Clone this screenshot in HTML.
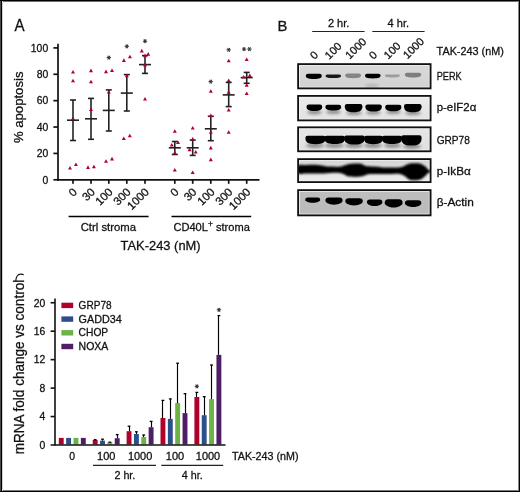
<!DOCTYPE html>
<html><head><meta charset="utf-8"><style>
html,body{margin:0;padding:0;background:#fff;}
svg{display:block;will-change:transform;}
text{font-family:"Liberation Sans", sans-serif;fill:#111;stroke:#111;stroke-width:0.28px;}
</style></head><body>
<svg width="520" height="492" viewBox="0 0 520 492">
<defs><filter id="bl" x="-20%" y="-50%" width="140%" height="200%"><feGaussianBlur stdDeviation="0.7"/></filter><filter id="bl3" x="-10%" y="-50%" width="120%" height="200%"><feGaussianBlur stdDeviation="0.85"/></filter><filter id="bl2" x="-30%" y="-100%" width="160%" height="300%"><feGaussianBlur stdDeviation="1.4"/></filter></defs>
<rect x="0" y="0" width="520" height="492" fill="#fff"/>
<text x="14.4" y="31.0" font-size="16.2" textLength="10.1" lengthAdjust="spacingAndGlyphs">A</text>
<g stroke="#111" stroke-width="1.7" fill="none">
<line x1="58" y1="43.8" x2="58" y2="180.7"/>
<line x1="57.2" y1="179.9" x2="259.5" y2="179.9"/>
<line x1="53.4" y1="47.90" x2="58" y2="47.90"/>
<line x1="53.4" y1="74.28" x2="58" y2="74.28"/>
<line x1="53.4" y1="100.66" x2="58" y2="100.66"/>
<line x1="53.4" y1="127.04" x2="58" y2="127.04"/>
<line x1="53.4" y1="153.42" x2="58" y2="153.42"/>
<line x1="53.4" y1="179.80" x2="58" y2="179.80"/>
<line x1="73.0" y1="180" x2="73.0" y2="183.8"/>
<line x1="91.0" y1="180" x2="91.0" y2="183.8"/>
<line x1="108.8" y1="180" x2="108.8" y2="183.8"/>
<line x1="126.8" y1="180" x2="126.8" y2="183.8"/>
<line x1="145.0" y1="180" x2="145.0" y2="183.8"/>
<line x1="174.8" y1="180" x2="174.8" y2="183.8"/>
<line x1="192.7" y1="180" x2="192.7" y2="183.8"/>
<line x1="210.8" y1="180" x2="210.8" y2="183.8"/>
<line x1="228.7" y1="180" x2="228.7" y2="183.8"/>
<line x1="246.7" y1="180" x2="246.7" y2="183.8"/>
</g>
<text x="48.2" y="51.7" font-size="10.4" text-anchor="end">100</text>
<text x="48.2" y="78.08" font-size="10.4" text-anchor="end">80</text>
<text x="48.2" y="104.46" font-size="10.4" text-anchor="end">60</text>
<text x="48.2" y="130.84" font-size="10.4" text-anchor="end">40</text>
<text x="48.2" y="157.22" font-size="10.4" text-anchor="end">20</text>
<text x="48.2" y="183.6" font-size="10.4" text-anchor="end">0</text>
<text transform="translate(23.2 107.3) rotate(-90)" font-size="13" text-anchor="middle" textLength="71.5" lengthAdjust="spacingAndGlyphs">% apoptosis</text>
<g font-size="11.3" text-anchor="end">
<text transform="translate(77.60 192.7) rotate(-45)">0</text>
<text transform="translate(95.60 192.7) rotate(-45)">30</text>
<text transform="translate(113.40 192.7) rotate(-45)">100</text>
<text transform="translate(131.40 192.7) rotate(-45)">300</text>
<text transform="translate(149.60 192.7) rotate(-45)">1000</text>
<text transform="translate(179.40 192.7) rotate(-45)">0</text>
<text transform="translate(197.30 192.7) rotate(-45)">30</text>
<text transform="translate(215.40 192.7) rotate(-45)">100</text>
<text transform="translate(233.30 192.7) rotate(-45)">300</text>
<text transform="translate(251.30 192.7) rotate(-45)">1000</text>
</g>
<g stroke="#000" stroke-width="1.5">
<line x1="68.6" y1="216.4" x2="148.6" y2="216.4"/>
<line x1="171.5" y1="216.4" x2="251.2" y2="216.4"/>
</g>
<text x="108.4" y="230.6" font-size="11.2" text-anchor="middle" textLength="55.4" lengthAdjust="spacingAndGlyphs">Ctrl stroma</text>
<text x="173.4" y="230.6" font-size="11.2" textLength="76.4" lengthAdjust="spacingAndGlyphs">CD40L<tspan font-size="8.6" dy="-4.0">+</tspan><tspan dy="4.0"> stroma</tspan></text>
<text x="120.6" y="249.5" font-size="13.6" textLength="80.0" lengthAdjust="spacingAndGlyphs">TAK-243 (nM)</text>
<g stroke="#222" stroke-width="1.6" fill="none">
<line x1="73.0" y1="100.0" x2="73.0" y2="140.5"/>
<line x1="70.0" y1="100.0" x2="76.0" y2="100.0"/>
<line x1="70.0" y1="140.5" x2="76.0" y2="140.5"/>
<line x1="67.0" y1="120.2" x2="79.0" y2="120.2"/>
<line x1="91.0" y1="98.4" x2="91.0" y2="139.3"/>
<line x1="88.0" y1="98.4" x2="94.0" y2="98.4"/>
<line x1="88.0" y1="139.3" x2="94.0" y2="139.3"/>
<line x1="85.0" y1="118.8" x2="97.0" y2="118.8"/>
<line x1="108.8" y1="89.9" x2="108.8" y2="131.0"/>
<line x1="105.8" y1="89.9" x2="111.8" y2="89.9"/>
<line x1="105.8" y1="131.0" x2="111.8" y2="131.0"/>
<line x1="102.8" y1="110.4" x2="114.8" y2="110.4"/>
<line x1="126.8" y1="74.6" x2="126.8" y2="111.0"/>
<line x1="123.8" y1="74.6" x2="129.8" y2="74.6"/>
<line x1="123.8" y1="111.0" x2="129.8" y2="111.0"/>
<line x1="120.8" y1="93.1" x2="132.8" y2="93.1"/>
<line x1="145.0" y1="55.6" x2="145.0" y2="73.4"/>
<line x1="142.0" y1="55.6" x2="148.0" y2="55.6"/>
<line x1="142.0" y1="73.4" x2="148.0" y2="73.4"/>
<line x1="139.0" y1="64.6" x2="151.0" y2="64.6"/>
<line x1="174.8" y1="141.5" x2="174.8" y2="154.5"/>
<line x1="171.8" y1="141.5" x2="177.8" y2="141.5"/>
<line x1="171.8" y1="154.5" x2="177.8" y2="154.5"/>
<line x1="168.8" y1="147.8" x2="180.8" y2="147.8"/>
<line x1="192.7" y1="140.1" x2="192.7" y2="155.4"/>
<line x1="189.7" y1="140.1" x2="195.7" y2="140.1"/>
<line x1="189.7" y1="155.4" x2="195.7" y2="155.4"/>
<line x1="186.7" y1="147.8" x2="198.7" y2="147.8"/>
<line x1="210.8" y1="116.3" x2="210.8" y2="140.7"/>
<line x1="207.8" y1="116.3" x2="213.8" y2="116.3"/>
<line x1="207.8" y1="140.7" x2="213.8" y2="140.7"/>
<line x1="204.8" y1="128.8" x2="216.8" y2="128.8"/>
<line x1="228.7" y1="82.4" x2="228.7" y2="106.6"/>
<line x1="225.7" y1="82.4" x2="231.7" y2="82.4"/>
<line x1="225.7" y1="106.6" x2="231.7" y2="106.6"/>
<line x1="222.7" y1="94.9" x2="234.7" y2="94.9"/>
<line x1="246.7" y1="72.4" x2="246.7" y2="83.3"/>
<line x1="243.7" y1="72.4" x2="249.7" y2="72.4"/>
<line x1="243.7" y1="83.3" x2="249.7" y2="83.3"/>
<line x1="240.7" y1="77.6" x2="252.7" y2="77.6"/>
</g>
<g fill="#b0002c">
<path d="M73.00 70.02L75.00 73.62L71.00 73.62Z"/>
<path d="M73.00 78.72L75.00 82.32L71.00 82.32Z"/>
<path d="M73.00 116.52L75.00 120.12L71.00 120.12Z"/>
<path d="M70.00 165.92L72.00 169.52L68.00 169.52Z"/>
<path d="M75.90 162.52L77.90 166.12L73.90 166.12Z"/>
<path d="M91.00 68.62L93.00 72.22L89.00 72.22Z"/>
<path d="M91.00 79.72L93.00 83.32L89.00 83.32Z"/>
<path d="M91.00 107.42L93.00 111.02L89.00 111.02Z"/>
<path d="M88.00 165.32L90.00 168.92L86.00 168.92Z"/>
<path d="M93.90 164.72L95.90 168.32L91.90 168.32Z"/>
<path d="M106.00 69.62L108.00 73.22L104.00 73.22Z"/>
<path d="M112.00 68.42L114.00 72.02L110.00 72.02Z"/>
<path d="M108.80 90.02L110.80 93.62L106.80 93.62Z"/>
<path d="M106.00 159.22L108.00 162.82L104.00 162.82Z"/>
<path d="M112.00 156.82L114.00 160.42L110.00 160.42Z"/>
<path d="M123.90 58.32L125.90 61.92L121.90 61.92Z"/>
<path d="M129.90 54.72L131.90 58.32L127.90 58.32Z"/>
<path d="M126.80 73.72L128.80 77.32L124.80 77.32Z"/>
<path d="M123.80 136.42L125.80 140.02L121.80 140.02Z"/>
<path d="M129.80 133.72L131.80 137.32L127.80 137.32Z"/>
<path d="M141.80 48.82L143.80 52.42L139.80 52.42Z"/>
<path d="M148.20 52.12L150.20 55.72L146.20 55.72Z"/>
<path d="M145.00 53.62L147.00 57.22L143.00 57.22Z"/>
<path d="M145.00 63.02L147.00 66.62L143.00 66.62Z"/>
<path d="M145.00 97.02L147.00 100.62L143.00 100.62Z"/>
<path d="M174.80 129.22L176.80 132.82L172.80 132.82Z"/>
<path d="M178.00 140.32L180.00 143.92L176.00 143.92Z"/>
<path d="M171.80 143.02L173.80 146.62L169.80 146.62Z"/>
<path d="M174.80 150.72L176.80 154.32L172.80 154.32Z"/>
<path d="M174.80 168.02L176.80 171.62L172.80 171.62Z"/>
<path d="M192.70 126.02L194.70 129.62L190.70 129.62Z"/>
<path d="M192.70 136.92L194.70 140.52L190.70 140.52Z"/>
<path d="M189.60 147.62L191.60 151.22L187.60 151.22Z"/>
<path d="M195.70 150.02L197.70 153.62L193.70 153.62Z"/>
<path d="M192.70 170.42L194.70 174.02L190.70 174.02Z"/>
<path d="M210.80 89.22L212.80 92.82L208.80 92.82Z"/>
<path d="M210.80 113.42L212.80 117.02L208.80 117.02Z"/>
<path d="M210.80 130.22L212.80 133.82L208.80 133.82Z"/>
<path d="M210.80 145.82L212.80 149.42L208.80 149.42Z"/>
<path d="M210.80 157.62L212.80 161.22L208.80 161.22Z"/>
<path d="M228.70 58.72L230.70 62.32L226.70 62.32Z"/>
<path d="M228.70 78.52L230.70 82.12L226.70 82.12Z"/>
<path d="M228.70 90.22L230.70 93.82L226.70 93.82Z"/>
<path d="M228.70 107.92L230.70 111.52L226.70 111.52Z"/>
<path d="M228.70 130.22L230.70 133.82L226.70 133.82Z"/>
<path d="M246.70 57.52L248.70 61.12L244.70 61.12Z"/>
<path d="M243.70 75.02L245.70 78.62L241.70 78.62Z"/>
<path d="M249.80 73.52L251.80 77.12L247.80 77.12Z"/>
<path d="M246.70 83.12L248.70 86.72L244.70 86.72Z"/>
<path d="M246.70 91.42L248.70 95.02L244.70 95.02Z"/>
</g>
<g stroke="#333" stroke-width="1.05">
<line x1="106.65" y1="57.60" x2="110.95" y2="57.60"/><line x1="107.72" y1="55.74" x2="109.88" y2="59.46"/><line x1="109.88" y1="55.74" x2="107.72" y2="59.46"/>
<line x1="124.65" y1="46.30" x2="128.95" y2="46.30"/><line x1="125.72" y1="44.44" x2="127.88" y2="48.16"/><line x1="127.88" y1="44.44" x2="125.72" y2="48.16"/>
<line x1="142.85" y1="41.20" x2="147.15" y2="41.20"/><line x1="143.93" y1="39.34" x2="146.07" y2="43.06"/><line x1="146.07" y1="39.34" x2="143.93" y2="43.06"/>
<line x1="208.55" y1="81.60" x2="212.85" y2="81.60"/><line x1="209.62" y1="79.74" x2="211.77" y2="83.46"/><line x1="211.77" y1="79.74" x2="209.62" y2="83.46"/>
<line x1="226.55" y1="49.80" x2="230.85" y2="49.80"/><line x1="227.62" y1="47.94" x2="229.77" y2="51.66"/><line x1="229.77" y1="47.94" x2="227.62" y2="51.66"/>
<line x1="241.95" y1="49.10" x2="246.25" y2="49.10"/><line x1="243.03" y1="47.24" x2="245.17" y2="50.96"/><line x1="245.17" y1="47.24" x2="243.03" y2="50.96"/>
<line x1="247.25" y1="49.10" x2="251.55" y2="49.10"/><line x1="248.33" y1="47.24" x2="250.47" y2="50.96"/><line x1="250.47" y1="47.24" x2="248.33" y2="50.96"/>
</g>
<text x="277.6" y="31.3" font-size="14.8">B</text>
<text x="338.6" y="26.9" font-size="11.3" text-anchor="middle" textLength="21.4" lengthAdjust="spacingAndGlyphs">2 hr.</text>
<text x="398.3" y="26.9" font-size="11.3" text-anchor="middle" textLength="21.4" lengthAdjust="spacingAndGlyphs">4 hr.</text>
<g stroke="#222" stroke-width="1.2"><line x1="312.2" y1="31.5" x2="364.6" y2="31.5"/><line x1="372.3" y1="31.5" x2="424.6" y2="31.5"/></g>
<g font-size="11">
<text transform="translate(314.45 59.95) rotate(-45)">0</text>
<text transform="translate(329.30 59.90) rotate(-45)">100</text>
<text transform="translate(349.75 59.70) rotate(-45)">1000</text>
<text transform="translate(373.55 60.05) rotate(-45)">0</text>
<text transform="translate(388.30 59.70) rotate(-45)">100</text>
<text transform="translate(407.40 59.45) rotate(-45)">1000</text>
</g>
<text x="436.6" y="55.1" font-size="10.9" textLength="67.2" lengthAdjust="spacingAndGlyphs">TAK-243 (nM)</text>
<text x="436.7" y="79.9" font-size="10.9" textLength="25.0" lengthAdjust="spacingAndGlyphs">PERK</text>
<text x="436.7" y="111.3" font-size="10.9" textLength="39.6" lengthAdjust="spacingAndGlyphs">p-eIF2α</text>
<text x="436.7" y="143.8" font-size="10.9" textLength="33.2" lengthAdjust="spacingAndGlyphs">GRP78</text>
<text x="436.7" y="175.3" font-size="10.9" textLength="34.0" lengthAdjust="spacingAndGlyphs">p-IkBα</text>
<text x="436.7" y="206.4" font-size="10.9" textLength="37.1" lengthAdjust="spacingAndGlyphs">β-Actin</text>
<clipPath id="cb"><rect x="298.1" y="64.10" width="132.5" height="24.30"/><rect x="298.1" y="95.90" width="132.5" height="24.50"/><rect x="298.1" y="127.30" width="132.5" height="24.00"/><rect x="298.1" y="159.10" width="132.5" height="23.00"/><rect x="298.1" y="190.10" width="132.5" height="25.30"/></clipPath>
<g clip-path="url(#cb)">
<linearGradient id="g0" x1="0" y1="0" x2="0" y2="1"><stop offset="0" stop-color="#d9d9d9"/><stop offset="1" stop-color="#d2d2d2"/></linearGradient>
<rect x="298.1" y="64.10" width="132.5" height="24.30" fill="url(#g0)"/>
<rect x="299.5" y="65.50" width="129.7" height="21.50" fill="none" stroke="#f2f2f2" stroke-width="0.9" opacity="0.8"/>
<linearGradient id="g1" x1="0" y1="0" x2="0" y2="1"><stop offset="0" stop-color="#ececec"/><stop offset="1" stop-color="#e2e2e2"/></linearGradient>
<rect x="298.1" y="95.90" width="132.5" height="24.50" fill="url(#g1)"/>
<rect x="299.5" y="97.30" width="129.7" height="21.70" fill="none" stroke="#f2f2f2" stroke-width="0.9" opacity="0.8"/>
<linearGradient id="g2" x1="0" y1="0" x2="0" y2="1"><stop offset="0" stop-color="#e6e6e6"/><stop offset="1" stop-color="#e0e0e0"/></linearGradient>
<rect x="298.1" y="127.30" width="132.5" height="24.00" fill="url(#g2)"/>
<rect x="299.5" y="128.70" width="129.7" height="21.20" fill="none" stroke="#f2f2f2" stroke-width="0.9" opacity="0.8"/>
<linearGradient id="g3" x1="0" y1="0" x2="0" y2="1"><stop offset="0" stop-color="#d4d4d4"/><stop offset="1" stop-color="#eeeeee"/></linearGradient>
<rect x="298.1" y="159.10" width="132.5" height="23.00" fill="url(#g3)"/>
<rect x="299.5" y="160.50" width="129.7" height="20.20" fill="none" stroke="#f2f2f2" stroke-width="0.9" opacity="0.8"/>
<linearGradient id="g4" x1="0" y1="0" x2="0" y2="1"><stop offset="0" stop-color="#bebebe"/><stop offset="1" stop-color="#bababa"/></linearGradient>
<rect x="298.1" y="190.10" width="132.5" height="25.30" fill="url(#g4)"/>
<rect x="299.5" y="191.50" width="129.7" height="22.50" fill="none" stroke="#f2f2f2" stroke-width="0.9" opacity="0.8"/>
<ellipse cx="372" cy="85.8" rx="7" ry="1.6" fill="#b0b0b0" filter="url(#bl2)"/>
<g filter="url(#bl2)" fill="#6a6a6a" opacity="0.7">
<ellipse cx="314.5" cy="112.25" rx="7.5" ry="2.25"/>
<ellipse cx="333.5" cy="112.0" rx="7.5" ry="2.0"/>
<ellipse cx="354.0" cy="113.0" rx="8.0" ry="2.0"/>
<ellipse cx="373.5" cy="112.5" rx="7.5" ry="2.0"/>
<ellipse cx="393.5" cy="112.0" rx="7.5" ry="2.0"/>
<ellipse cx="413.0" cy="113.0" rx="8.0" ry="2.0"/>
<ellipse cx="315.0" cy="145.5" rx="9.0" ry="2.5"/>
<ellipse cx="334.5" cy="145.5" rx="9.5" ry="2.5"/>
<ellipse cx="354.0" cy="145.5" rx="9.0" ry="2.5"/>
<ellipse cx="373.0" cy="145.5" rx="9.0" ry="2.5"/>
<ellipse cx="392.5" cy="145.5" rx="8.5" ry="2.5"/>
<ellipse cx="412.0" cy="146.5" rx="9.0" ry="2.5"/>
</g>
<g filter="url(#bl)">
<path fill="#050505" d="M305.80 75.94Q305.80 73.80 307.94 73.80L319.66 73.80Q321.80 73.80 321.80 75.94C321.80 77.62 319.88 78.90 313.80 78.90C307.72 78.90 305.80 77.62 305.80 75.94Z"/>
<path fill="#141414" d="M325.60 75.91Q325.60 74.40 327.11 74.40L339.49 74.40Q341.00 74.40 341.00 75.91C341.00 77.10 339.15 78.00 333.30 78.00C327.45 78.00 325.60 77.10 325.60 75.91Z"/>
<path fill="#858585" d="M345.20 75.53Q345.20 73.60 347.13 73.60L359.07 73.60Q361.00 73.60 361.00 75.53C361.00 77.05 359.10 78.20 353.10 78.20C347.10 78.20 345.20 77.05 345.20 75.53Z"/>
<path fill="#050505" d="M365.00 75.73Q365.00 73.80 366.93 73.80L378.67 73.80Q380.60 73.80 380.60 75.73C380.60 77.25 378.73 78.40 372.80 78.40C366.87 78.40 365.00 77.25 365.00 75.73Z"/>
<path fill="#9c9c9c" d="M385.00 75.66Q385.00 74.40 386.26 74.40L398.54 74.40Q399.80 74.40 399.80 75.66C399.80 76.65 398.02 77.40 392.40 77.40C386.78 77.40 385.00 76.65 385.00 75.66Z"/>
<path fill="#7e7e7e" d="M404.80 74.82Q404.80 72.80 406.82 72.80L419.18 72.80Q421.20 72.80 421.20 74.82C421.20 76.40 419.23 77.60 413.00 77.60C406.77 77.60 404.80 76.40 404.80 74.82Z"/>
<path fill="#050505" d="M306.50 106.80Q306.50 104.60 308.70 104.60L320.00 104.60Q322.20 104.60 322.20 106.80C322.20 109.40 320.32 111.00 314.35 111.00C308.38 111.00 306.50 109.40 306.50 106.80Z"/>
<path fill="#050505" d="M325.40 107.00Q325.40 104.80 327.60 104.80L339.00 104.80Q341.20 104.80 341.20 107.00C341.20 109.15 339.30 110.60 333.30 110.60C327.30 110.60 325.40 109.15 325.40 107.00Z"/>
<path fill="#050505" d="M344.80 106.20Q344.80 104.00 347.00 104.00L360.20 104.00Q362.40 104.00 362.40 106.20C362.40 110.15 360.29 112.20 353.60 112.20C346.91 112.20 344.80 110.15 344.80 106.20Z"/>
<path fill="#050505" d="M365.40 106.60Q365.40 104.40 367.60 104.40L379.60 104.40Q381.80 104.40 381.80 106.60C381.80 109.80 379.83 111.60 373.60 111.60C367.37 111.60 365.40 109.80 365.40 106.60Z"/>
<path fill="#050505" d="M385.20 107.00Q385.20 104.80 387.40 104.80L399.20 104.80Q401.40 104.80 401.40 107.00C401.40 109.60 399.46 111.20 393.30 111.20C387.14 111.20 385.20 109.60 385.20 107.00Z"/>
<path fill="#050505" d="M404.00 106.20Q404.00 104.00 406.20 104.00L419.40 104.00Q421.60 104.00 421.60 106.20C421.60 110.15 419.49 112.20 412.80 112.20C406.11 112.20 404.00 110.15 404.00 106.20Z"/>
<path fill="#050505" d="M305.40 138.00Q305.40 135.80 307.60 135.80L323.40 135.80Q325.60 135.80 325.60 138.00C325.60 142.10 323.18 144.20 315.50 144.20C307.82 144.20 305.40 142.10 305.40 138.00Z"/>
<path fill="#050505" d="M324.40 138.00Q324.40 135.80 326.60 135.80L342.80 135.80Q345.00 135.80 345.00 138.00C345.00 141.95 342.53 144.00 334.70 144.00C326.87 144.00 324.40 141.95 324.40 138.00Z"/>
<path fill="#050505" d="M344.20 137.80Q344.20 135.60 346.40 135.60L362.60 135.60Q364.80 135.60 364.80 137.80C364.80 142.35 362.33 144.60 354.50 144.60C346.67 144.60 344.20 142.35 344.20 137.80Z"/>
<path fill="#050505" d="M364.00 138.00Q364.00 135.80 366.20 135.80L380.60 135.80Q382.80 135.80 382.80 138.00C382.80 142.10 380.54 144.20 373.40 144.20C366.26 144.20 364.00 142.10 364.00 138.00Z"/>
<path fill="#050505" d="M381.80 138.00Q381.80 135.80 384.00 135.80L400.00 135.80Q402.20 135.80 402.20 138.00C402.20 141.95 399.75 144.00 392.00 144.00C384.25 144.00 381.80 141.95 381.80 138.00Z"/>
<path fill="#050505" d="M401.20 137.40Q401.20 135.20 403.40 135.20L419.40 135.20Q421.60 135.20 421.60 137.40C421.60 143.00 419.15 145.60 411.40 145.60C403.65 145.60 401.20 143.00 401.20 137.40Z"/>
<g filter="url(#bl3)"><path fill="#050505" d="M298.00 165.40C299.33 164.00 303.33 165.02 306.00 164.90C308.67 164.78 311.33 164.60 314.00 164.70C316.67 164.80 319.83 165.20 322.00 165.50C324.17 165.80 325.17 166.35 327.00 166.50C328.83 166.65 330.83 166.38 333.00 166.40C335.17 166.42 338.17 166.77 340.00 166.60C341.83 166.43 342.50 165.85 344.00 165.40C345.50 164.95 347.17 164.23 349.00 163.90C350.83 163.57 353.00 163.42 355.00 163.40C357.00 163.38 359.17 163.35 361.00 163.80C362.83 164.25 364.00 165.63 366.00 166.10C368.00 166.57 370.67 166.45 373.00 166.60C375.33 166.75 378.17 166.85 380.00 167.00C381.83 167.15 382.00 167.42 384.00 167.50C386.00 167.58 389.33 167.53 392.00 167.50C394.67 167.47 398.00 167.55 400.00 167.30C402.00 167.05 402.50 166.58 404.00 166.00C405.50 165.42 407.17 164.25 409.00 163.80C410.83 163.35 413.00 163.28 415.00 163.30C417.00 163.32 419.25 163.37 421.00 163.90C422.75 164.43 424.33 165.58 425.50 166.50C426.67 167.42 427.08 168.73 428.00 169.40C428.92 170.07 430.50 170.08 431.00 170.50C431.50 170.92 431.50 171.50 431.00 171.90C430.50 172.30 428.83 172.35 428.00 172.90C427.17 173.45 427.17 174.15 426.00 175.20C424.83 176.25 422.83 178.37 421.00 179.20C419.17 180.03 417.00 180.17 415.00 180.20C413.00 180.23 410.67 180.07 409.00 179.40C407.33 178.73 406.50 177.10 405.00 176.20C403.50 175.30 402.17 174.38 400.00 174.00C397.83 173.62 394.67 173.92 392.00 173.90C389.33 173.88 386.33 173.88 384.00 173.90C381.67 173.92 379.83 173.98 378.00 174.00C376.17 174.02 374.83 173.93 373.00 174.00C371.17 174.07 368.83 174.02 367.00 174.40C365.17 174.78 364.00 175.88 362.00 176.30C360.00 176.72 357.33 176.90 355.00 176.90C352.67 176.90 349.83 176.75 348.00 176.30C346.17 175.85 345.33 174.77 344.00 174.20C342.67 173.63 341.83 173.15 340.00 172.90C338.17 172.65 335.17 172.65 333.00 172.70C330.83 172.75 328.83 173.07 327.00 173.20C325.17 173.33 324.17 173.43 322.00 173.50C319.83 173.57 316.67 173.62 314.00 173.60C311.33 173.58 308.67 173.45 306.00 173.40C303.33 173.35 299.33 174.63 298.00 173.30C296.67 171.97 296.67 166.80 298.00 165.40Z"/></g>
<path fill="#050505" d="M305.20 199.94Q305.20 197.60 307.54 197.60L317.86 197.60Q320.20 197.60 320.20 199.94C320.20 200.98 317.50 202.80 312.70 202.80C307.90 202.80 305.20 200.98 305.20 199.94Z"/>
<path fill="#050505" d="M325.40 200.84Q325.40 197.60 328.64 197.60L339.36 197.60Q342.60 197.60 342.60 200.84C342.60 202.28 339.50 204.80 334.00 204.80C328.50 204.80 325.40 202.28 325.40 200.84Z"/>
<path fill="#050505" d="M345.30 201.44Q345.30 198.20 348.54 198.20L359.56 198.20Q362.80 198.20 362.80 201.44C362.80 202.88 359.65 205.40 354.05 205.40C348.45 205.40 345.30 202.88 345.30 201.44Z"/>
<path fill="#050505" d="M366.90 202.48Q366.90 199.60 369.78 199.60L379.52 199.60Q382.40 199.60 382.40 202.48C382.40 203.76 379.61 206.00 374.65 206.00C369.69 206.00 366.90 203.76 366.90 202.48Z"/>
<path fill="#050505" d="M384.70 202.89Q384.70 199.20 388.39 199.20L398.91 199.20Q402.60 199.20 402.60 202.89C402.60 204.53 399.38 207.40 393.65 207.40C387.92 207.40 384.70 204.53 384.70 202.89Z"/>
<path fill="#050505" d="M404.90 203.36Q404.90 200.30 407.96 200.30L418.34 200.30Q421.40 200.30 421.40 203.36C421.40 204.72 418.43 207.10 413.15 207.10C407.87 207.10 404.90 204.72 404.90 203.36Z"/>
</g>
</g>
<g fill="none" stroke="#111" stroke-width="1.8">
<rect x="298.1" y="64.10" width="132.5" height="24.30"/>
<rect x="298.1" y="95.90" width="132.5" height="24.50"/>
<rect x="298.1" y="127.30" width="132.5" height="24.00"/>
<rect x="298.1" y="159.10" width="132.5" height="23.00"/>
<rect x="298.1" y="190.10" width="132.5" height="25.30"/>
</g>
<g stroke="#111" stroke-width="1.6" fill="none">
<line x1="55" y1="298.6" x2="55" y2="445.6"/>
<line x1="50.6" y1="302.75" x2="55" y2="302.75"/>
<line x1="50.6" y1="331.20" x2="55" y2="331.20"/>
<line x1="50.6" y1="359.65" x2="55" y2="359.65"/>
<line x1="50.6" y1="388.10" x2="55" y2="388.10"/>
<line x1="50.6" y1="416.55" x2="55" y2="416.55"/>
</g>
<text x="45.4" y="306.55" font-size="10.4" text-anchor="end">20</text>
<text x="45.4" y="335.0" font-size="10.4" text-anchor="end">16</text>
<text x="45.4" y="363.45" font-size="10.4" text-anchor="end">12</text>
<text x="45.4" y="391.9" font-size="10.4" text-anchor="end">8</text>
<text x="45.4" y="420.35" font-size="10.4" text-anchor="end">4</text>
<text x="45.4" y="448.8" font-size="10.4" text-anchor="end">0</text>
<text transform="translate(24 454.3) rotate(-90)" font-size="14.2" textLength="174.5" lengthAdjust="spacingAndGlyphs">mRNA fold change vs control</text>
<path d="M15.8 281.2C15.8 277 18 274.3 20.5 274.2C21.8 274.1 22.8 274.3 23.7 274.7" fill="none" stroke="#111" stroke-width="1.25"/>
<rect x="61.4" y="302.70" width="11.8" height="5.4" fill="#b0002c"/>
<text x="78.6" y="308.8" font-size="10.6" textLength="33.0" lengthAdjust="spacingAndGlyphs">GRP78</text>
<rect x="61.4" y="316.40" width="11.8" height="5.4" fill="#2b4f8a"/>
<text x="78.6" y="322.5" font-size="10.6" textLength="43.2" lengthAdjust="spacingAndGlyphs">GADD34</text>
<rect x="61.4" y="330.10" width="11.8" height="5.4" fill="#6cb245"/>
<text x="78.6" y="336.2" font-size="10.6" textLength="29.6" lengthAdjust="spacingAndGlyphs">CHOP</text>
<rect x="61.4" y="343.80" width="11.8" height="5.4" fill="#4e1f66"/>
<text x="78.6" y="349.9" font-size="10.6" textLength="29.8" lengthAdjust="spacingAndGlyphs">NOXA</text>
<rect x="58.80" y="437.90" width="4.9" height="6.60" fill="#b0002c"/>
<rect x="66.15" y="437.90" width="4.9" height="6.60" fill="#2b4f8a"/>
<rect x="73.50" y="437.90" width="4.9" height="6.60" fill="#6cb245"/>
<rect x="80.85" y="437.90" width="4.9" height="6.60" fill="#4e1f66"/>
<rect x="92.70" y="440.00" width="4.9" height="4.50" fill="#b0002c"/>
<line x1="95.50" y1="439.70" x2="95.50" y2="440.00" stroke="#000" stroke-width="1.15"/>
<line x1="93.75" y1="439.70" x2="96.55" y2="439.70" stroke="#000" stroke-width="1.3"/>
<rect x="100.05" y="440.70" width="4.9" height="3.80" fill="#2b4f8a"/>
<line x1="102.50" y1="439.20" x2="102.50" y2="440.70" stroke="#000" stroke-width="1.15"/>
<line x1="101.10" y1="439.20" x2="103.90" y2="439.20" stroke="#000" stroke-width="1.3"/>
<rect x="107.40" y="442.30" width="4.9" height="2.20" fill="#6cb245"/>
<line x1="109.50" y1="442.20" x2="109.50" y2="442.30" stroke="#000" stroke-width="1.15"/>
<line x1="108.45" y1="442.20" x2="111.25" y2="442.20" stroke="#000" stroke-width="1.3"/>
<rect x="114.75" y="438.20" width="4.9" height="6.30" fill="#4e1f66"/>
<line x1="117.50" y1="434.60" x2="117.50" y2="438.20" stroke="#000" stroke-width="1.15"/>
<line x1="115.80" y1="434.60" x2="118.60" y2="434.60" stroke="#000" stroke-width="1.3"/>
<rect x="126.60" y="431.20" width="4.9" height="13.30" fill="#b0002c"/>
<line x1="129.50" y1="426.20" x2="129.50" y2="431.20" stroke="#000" stroke-width="1.15"/>
<line x1="127.65" y1="426.20" x2="130.45" y2="426.20" stroke="#000" stroke-width="1.3"/>
<rect x="133.95" y="434.00" width="4.9" height="10.50" fill="#2b4f8a"/>
<line x1="136.50" y1="431.80" x2="136.50" y2="434.00" stroke="#000" stroke-width="1.15"/>
<line x1="135.00" y1="431.80" x2="137.80" y2="431.80" stroke="#000" stroke-width="1.3"/>
<rect x="141.30" y="437.00" width="4.9" height="7.50" fill="#6cb245"/>
<line x1="143.50" y1="435.00" x2="143.50" y2="437.00" stroke="#000" stroke-width="1.15"/>
<line x1="142.35" y1="435.00" x2="145.15" y2="435.00" stroke="#000" stroke-width="1.3"/>
<rect x="148.65" y="427.20" width="4.9" height="17.30" fill="#4e1f66"/>
<line x1="151.50" y1="421.40" x2="151.50" y2="427.20" stroke="#000" stroke-width="1.15"/>
<line x1="149.70" y1="421.40" x2="152.50" y2="421.40" stroke="#000" stroke-width="1.3"/>
<rect x="160.50" y="418.00" width="4.9" height="26.50" fill="#b0002c"/>
<line x1="162.50" y1="400.40" x2="162.50" y2="418.00" stroke="#000" stroke-width="1.15"/>
<line x1="161.55" y1="400.40" x2="164.35" y2="400.40" stroke="#000" stroke-width="1.3"/>
<rect x="167.85" y="418.90" width="4.9" height="25.60" fill="#2b4f8a"/>
<line x1="170.50" y1="398.90" x2="170.50" y2="418.90" stroke="#000" stroke-width="1.15"/>
<line x1="168.90" y1="398.90" x2="171.70" y2="398.90" stroke="#000" stroke-width="1.3"/>
<rect x="175.20" y="403.00" width="4.9" height="41.50" fill="#6cb245"/>
<line x1="177.50" y1="363.20" x2="177.50" y2="403.00" stroke="#000" stroke-width="1.15"/>
<line x1="176.25" y1="363.20" x2="179.05" y2="363.20" stroke="#000" stroke-width="1.3"/>
<rect x="182.55" y="413.10" width="4.9" height="31.40" fill="#4e1f66"/>
<line x1="185.50" y1="393.70" x2="185.50" y2="413.10" stroke="#000" stroke-width="1.15"/>
<line x1="183.60" y1="393.70" x2="186.40" y2="393.70" stroke="#000" stroke-width="1.3"/>
<rect x="194.40" y="397.00" width="4.9" height="47.50" fill="#b0002c"/>
<line x1="196.50" y1="392.40" x2="196.50" y2="397.00" stroke="#000" stroke-width="1.15"/>
<line x1="195.45" y1="392.40" x2="198.25" y2="392.40" stroke="#000" stroke-width="1.3"/>
<rect x="201.75" y="415.20" width="4.9" height="29.30" fill="#2b4f8a"/>
<line x1="204.50" y1="396.70" x2="204.50" y2="415.20" stroke="#000" stroke-width="1.15"/>
<line x1="202.80" y1="396.70" x2="205.60" y2="396.70" stroke="#000" stroke-width="1.3"/>
<rect x="209.10" y="399.10" width="4.9" height="45.40" fill="#6cb245"/>
<line x1="211.50" y1="365.00" x2="211.50" y2="399.10" stroke="#000" stroke-width="1.15"/>
<line x1="210.15" y1="365.00" x2="212.95" y2="365.00" stroke="#000" stroke-width="1.3"/>
<rect x="216.45" y="354.90" width="4.9" height="89.60" fill="#4e1f66"/>
<line x1="218.50" y1="315.60" x2="218.50" y2="354.90" stroke="#000" stroke-width="1.15"/>
<line x1="217.50" y1="315.60" x2="220.30" y2="315.60" stroke="#000" stroke-width="1.3"/>
<line x1="50.6" y1="445" x2="225.5" y2="445" stroke="#111" stroke-width="1.6"/>
<g stroke="#333" stroke-width="1.05">
<line x1="194.70" y1="386.30" x2="199.00" y2="386.30"/><line x1="195.78" y1="384.44" x2="197.92" y2="388.16"/><line x1="197.92" y1="384.44" x2="195.78" y2="388.16"/>
<line x1="216.75" y1="309.80" x2="221.05" y2="309.80"/><line x1="217.83" y1="307.94" x2="219.97" y2="311.66"/><line x1="219.97" y1="307.94" x2="217.83" y2="311.66"/>
</g>
<text x="72.1" y="459.9" font-size="10.4" text-anchor="middle">0</text>
<text x="106.3" y="459.9" font-size="10.4" text-anchor="middle" textLength="18.4" lengthAdjust="spacingAndGlyphs">100</text>
<text x="140.1" y="459.9" font-size="10.4" text-anchor="middle" textLength="24.4" lengthAdjust="spacingAndGlyphs">1000</text>
<text x="175.0" y="459.9" font-size="10.4" text-anchor="middle" textLength="18.4" lengthAdjust="spacingAndGlyphs">100</text>
<text x="208.0" y="459.9" font-size="10.4" text-anchor="middle" textLength="24.4" lengthAdjust="spacingAndGlyphs">1000</text>
<text x="232.0" y="459.6" font-size="10.9" textLength="66.5" lengthAdjust="spacingAndGlyphs">TAK-243 (nM)</text>
<g stroke="#222" stroke-width="1.2"><line x1="93" y1="465.4" x2="156" y2="465.4"/><line x1="161.3" y1="465.4" x2="223.2" y2="465.4"/></g>
<text x="124.9" y="478.7" font-size="11.0" text-anchor="middle" textLength="20.9" lengthAdjust="spacingAndGlyphs">2 hr.</text>
<text x="192.3" y="478.7" font-size="11.0" text-anchor="middle" textLength="20.9" lengthAdjust="spacingAndGlyphs">4 hr.</text>
<g shape-rendering="crispEdges">
<rect x="0" y="1" width="520" height="1" fill="#707070"/>
<rect x="0" y="490" width="520" height="1" fill="#7a7a7a"/>
<rect x="2" y="0" width="1" height="492" fill="#d4d4d4"/>
<rect x="0" y="0" width="1" height="492" fill="#4a4a4a"/>
<rect x="1" y="0" width="1" height="492" fill="#000"/>
<rect x="518" y="0" width="1" height="492" fill="#8a8a8a"/>
<rect x="519" y="0" width="1" height="492" fill="#000"/>
<rect x="0" y="0" width="520" height="1" fill="#000"/>
<rect x="0" y="491" width="520" height="1" fill="#000"/>
</g>
</svg>
</body></html>
